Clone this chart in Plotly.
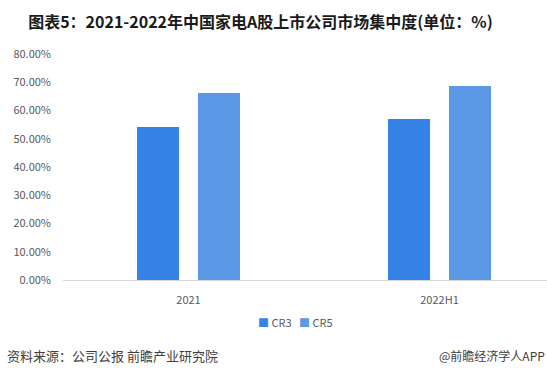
import plotly.graph_objects as go

categories = ["2021", "2022H1"]
cr3 = [0.542, 0.570]
cr5 = [0.662, 0.687]
series_names = ["CR3", "CR5"]
colors = ["#3583E6", "#5B98E6"]
y_ticks = [0, 0.1, 0.2, 0.3, 0.4, 0.5, 0.6, 0.7, 0.8]
y_tick_labels = ["0.00%", "10.00%", "20.00%", "30.00%", "40.00%", "50.00%", "60.00%", "70.00%", "80.00%"]

FONT = "Noto Sans CJK SC, Noto Sans, sans-serif"

fig = go.Figure()
fig.add_trace(go.Bar(x=categories, y=cr3, name=series_names[0], marker=dict(color=colors[0], line=dict(width=0))))
fig.add_trace(go.Bar(x=categories, y=cr5, name=series_names[1], marker=dict(color=colors[1], line=dict(width=0))))

W, H = 547, 374
L, R, T, B = 63, 0, 54, 94
plot_h = H - T - B
plot_w = W - L - R

legend_text = "   ".join(
    f"<span style='color:{c}'>■</span> {n}" for c, n in zip(colors, series_names)
)

fig.update_layout(
    width=W, height=H,
    margin=dict(l=L, r=R, t=T, b=B, pad=0),
    paper_bgcolor="white", plot_bgcolor="white",
    barmode="group", bargap=0.514, bargroupgap=0.311,
    font=dict(family=FONT, size=11, color="#595959"),
    title=dict(text="<b>图表5：2021-2022年中国家电A股上市公司市场集中度(单位：%)</b>",
               font=dict(family=FONT, size=16, color="#1a1a1a"),
               x=260.5 / W, xanchor="center", xref="container",
               y=1 - 22 / H, yanchor="middle", yref="container"),
    showlegend=False,
    xaxis=dict(type="category", range=[-0.5, -0.5 + plot_w / 251.0],
               showline=True, linecolor="#D9D9D9", linewidth=1,
               showgrid=False, ticks="", ticklabelstandoff=10,
               tickfont=dict(size=11, color="#595959"), fixedrange=True),
    yaxis=dict(range=[0, 0.8], tickvals=y_ticks, ticktext=y_tick_labels,
               showgrid=False, zeroline=False, showline=False, ticks="",
               ticklabelstandoff=11,
               tickfont=dict(size=11, color="#595959"), fixedrange=True),
    annotations=[
        dict(text=legend_text, xref="paper", yref="paper",
             x=(295 - L) / plot_w, xanchor="center", y=(H - B - 322) / plot_h, yanchor="middle",
             showarrow=False, font=dict(family=FONT, size=11, color="#595959")),
        dict(text="资料来源：公司公报 前瞻产业研究院", xref="paper", yref="paper",
             x=(5 - L) / plot_w, xanchor="left", y=(H - B - 355) / plot_h, yanchor="middle",
             showarrow=False, font=dict(family=FONT, size=13, color="#404040")),
        dict(text="@前瞻经济学人APP", xref="paper", yref="paper",
             x=(547 - L) / plot_w, xanchor="right", y=(H - B - 355) / plot_h, yanchor="middle",
             showarrow=False, font=dict(family=FONT, size=12, color="#404040")),
    ],
)

fig.write_html("out.html", config={"displayModeBar": False},
               post_script="document.body.style.margin='0';document.body.style.overflow='hidden';")
